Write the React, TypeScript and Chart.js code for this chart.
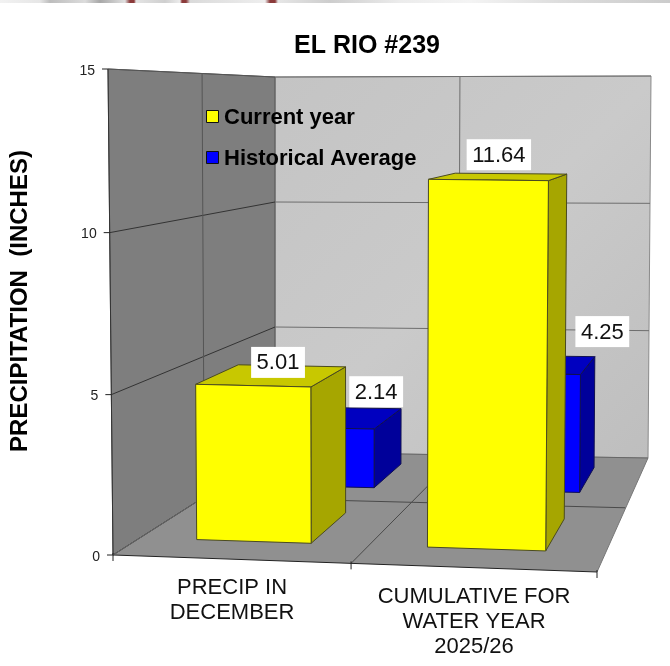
import React, { useEffect, useRef } from "react";
import { Chart, registerables } from "chart.js";

Chart.register(...registerables);

const categories = [["PRECIP IN", "DECEMBER"], ["CUMULATIVE FOR", "WATER YEAR", "2025/26"]];
const currentYear = [5.01, 11.64];
const historicalAverage = [2.14, 4.25];
const yTicks = [0, 5, 10, 15];
const titleText = "EL RIO #239";
const yTitleText = "PRECIPITATION  (INCHES)";

type Pt = [number, number];
// Screen corners of the 3D box (front/back, left/right, bottom/top)
const FL0: Pt = [113, 555], FL1: Pt = [108, 69], FR0: Pt = [597, 572], FR1: Pt = [602, 72];
const BL0: Pt = [275, 452], BL1: Pt = [275, 77], BR0: Pt = [648, 458], BR1: Pt = [651, 76];
const DEPTH_W = 1.29, WIDTH_W = 0.968, HEIGHT_W = 0.985;
const seriesDepth: Pt[] = [[0.135, 0.39], [0.63, 0.885]];
const FONT = '"Liberation Sans", Arial, sans-serif';

const lerp = (a: Pt, b: Pt, t: number): Pt => [a[0] + (b[0] - a[0]) * t, a[1] + (b[1] - a[1]) * t];
function project(u: number, v: number, d: number): Pt {
  const us = (u * WIDTH_W) / (1 - u + u * WIDTH_W);
  const vf = (v * HEIGHT_W) / (1 - v + v * HEIGHT_W);
  const front = lerp(lerp(FL0, FL1, vf), lerp(FR0, FR1, vf), us);
  const back = lerp(lerp(BL0, BL1, v), lerp(BR0, BR1, v), us);
  const t = (d * DEPTH_W) / (1 - d + d * DEPTH_W);
  return lerp(front, back, t);
}

function poly(ctx: CanvasRenderingContext2D, pts: Pt[], fill: string | CanvasGradient | null, stroke: string | null, lw = 1) {
  ctx.beginPath();
  pts.forEach((p, i) => (i ? ctx.lineTo(p[0], p[1]) : ctx.moveTo(p[0], p[1])));
  ctx.closePath();
  if (fill) { ctx.fillStyle = fill; ctx.fill(); }
  if (stroke) { ctx.strokeStyle = stroke; ctx.lineWidth = lw; ctx.stroke(); }
}
function seg(ctx: CanvasRenderingContext2D, a: Pt, b: Pt, color: string, lw = 1) {
  ctx.beginPath(); ctx.moveTo(a[0], a[1]); ctx.lineTo(b[0], b[1]);
  ctx.strokeStyle = color; ctx.lineWidth = lw; ctx.stroke();
}

const faces = [
  { front: "#ffff00", top: "#c8c800", side: "#a6a600", edge: "#4a4a20" },
  { front: "#0000ff", top: "#0000c0", side: "#00009a", edge: "#101050" },
];
const labelNudge: Pt[][] = [[[5, -13], [-1, -22]], [[37, -26], [65, -33]]];
const labelBoxHeight = 31;

const scene3d = {
  id: "scene3d",
  beforeDatasetsDraw(chart: any) {
    const ctx: CanvasRenderingContext2D = chart.ctx;
    const y = chart.scales.y, area = chart.chartArea;
    const frac = (val: number) => (area.bottom - y.getPixelForValue(val)) / area.height;
    ctx.save();
    // walls and floor
    const g = ctx.createLinearGradient(275, 77, 651, 458);
    g.addColorStop(0, "#c4c4c4"); g.addColorStop(0.5, "#cacaca"); g.addColorStop(1, "#bebebe");
    poly(ctx, [BL0, BL1, BR1, BR0], g, "#8a8a8a");
    poly(ctx, [FL0, FL1, BL1, BL0], "#7e7e7e", "#555555");
    poly(ctx, [FL0, BL0, BR0, FR0], "#909090", null);
    // gridlines
    for (const t of yTicks) {
      const v = frac(t);
      if (t > 0) seg(ctx, project(0, v, 1), project(1, v, 1), "#6e6e6e");
      seg(ctx, project(0, v, 0), project(0, v, 1), t === 15 ? "#555555" : "#333333");
    }
    seg(ctx, project(0.5, 0, 1), project(0.5, 1, 1), "#6e6e6e");
    seg(ctx, project(0, 0, 0.5), project(0, 1, 0.5), "#555555");
    seg(ctx, project(0, 0, 0.5), project(1, 0, 0.5), "#4a4a4a");
    seg(ctx, project(0.5, 0, 0), project(0.5, 0, 1), "#4a4a4a");
    seg(ctx, FL0, FL1, "#333333");
    seg(ctx, FL0, FR0, "#222222");
    seg(ctx, FR0, BR0, "#777777");
    seg(ctx, BL0, BR0, "#666666");
    seg(ctx, FL0, BL0, "#666666");
    // ticks
    for (const t of yTicks) {
      const p = project(0, frac(t), 0);
      seg(ctx, [p[0] - 6, p[1]], p, "#222222");
      ctx.fillStyle = "#222222";
      ctx.font = `14px ${FONT}`;
      ctx.textAlign = "right"; ctx.textBaseline = "middle";
      ctx.fillText(String(t), p[0] - 13, p[1] + 2);
    }
    for (const u of [0, 0.5, 1]) {
      const p = project(u, 0, 0);
      seg(ctx, [p[0], p[1] - 2], [p[0], p[1] + 6], "#222222");
    }
    ctx.restore();
  },
  afterDatasetsDraw(chart: any) {
    const ctx: CanvasRenderingContext2D = chart.ctx;
    const area = chart.chartArea;
    const toU = (px: number) => (px - area.left) / area.width;
    const toV = (px: number) => (area.bottom - px) / area.height;
    ctx.save();
    ctx.lineJoin = "round";
    const drawBar = (ds: number, i: number) => {
      const el = chart.getDatasetMeta(ds).data[i];
      const { x, y, base, width } = el.getProps(["x", "y", "base", "width"], true);
      const u0 = toU(x - width / 2), u1 = toU(x + width / 2);
      const v0 = toV(base), v1 = toV(y);
      const [d0, d1] = seriesDepth[ds];
      const c = faces[ds];
      poly(ctx, [project(u1, v0, d0), project(u1, v1, d0), project(u1, v1, d1), project(u1, v0, d1)], c.side, c.edge);
      poly(ctx, [project(u0, v1, d0), project(u1, v1, d0), project(u1, v1, d1), project(u0, v1, d1)], c.top, c.edge);
      poly(ctx, [project(u0, v0, d0), project(u1, v0, d0), project(u1, v1, d0), project(u0, v1, d0)], c.front, c.edge);
    };
    // painter's order: rear series first, then front series
    [1, 0].forEach((ds) => [0, 1].forEach((i) => drawBar(ds, i)));

    // data labels
    ctx.font = `22px ${FONT}`;
    ctx.textAlign = "center"; ctx.textBaseline = "middle";
    [0, 1].forEach((ds) => [0, 1].forEach((i) => {
      const el = chart.getDatasetMeta(ds).data[i];
      const { x, y } = el.getProps(["x", "y"], true);
      const [d0, d1] = seriesDepth[ds];
      const p = project(toU(x), toV(y), (d0 + d1) / 2);
      const n = labelNudge[ds][i];
      const cx = p[0] + n[0], cy = p[1] + n[1];
      const text = chart.data.datasets[ds].data[i].toFixed(2);
      const w = ctx.measureText(text).width + 11;
      ctx.fillStyle = "#ffffff";
      ctx.fillRect(cx - w / 2, cy - labelBoxHeight / 2, w, labelBoxHeight);
      ctx.fillStyle = "#111111";
      ctx.fillText(text, cx, cy + 1);
    }));

    // legend
    const legendY = [116, 157];
    chart.data.datasets.forEach((ds: any, i: number) => {
      const ly = legendY[i];
      ctx.fillStyle = ds.swatch;
      ctx.fillRect(206.5, ly - 5.5, 12, 12);
      ctx.strokeStyle = "#111111"; ctx.lineWidth = 1;
      ctx.strokeRect(206.5, ly - 5.5, 12, 12);
      ctx.fillStyle = "#000000";
      ctx.font = `bold 22px ${FONT}`;
      ctx.textAlign = "left"; ctx.textBaseline = "middle";
      ctx.fillText(ds.label, 224, ly + 2);
    });

    // category labels
    ctx.fillStyle = "#111111";
    ctx.font = `22px ${FONT}`;
    ctx.textAlign = "center"; ctx.textBaseline = "middle";
    chart.data.labels.forEach((lines: string[], i: number) => {
      const p = project((i + 0.5) / 2, 0, 0);
      lines.forEach((line, k) => ctx.fillText(line, p[0] + 1, p[1] + 29 + k * 25));
    });

    // titles
    ctx.fillStyle = "#000000";
    ctx.font = `bold 25px ${FONT}`;
    ctx.textAlign = "center"; ctx.textBaseline = "middle";
    ctx.fillText(titleText, 367, 46);
    ctx.save();
    ctx.font = `bold 24px ${FONT}`;
    ctx.translate(20, 301);
    ctx.rotate(-Math.PI / 2);
    ctx.fillText(yTitleText, 0, 0);
    ctx.restore();
    ctx.restore();
  },
};

const topStrip =
  "linear-gradient(90deg, #f2f2f2 0, #e6e6e6 40px, #bdbdbd 50px, #dcdcdc 85px, #a8a8a8 100px, #e0e0e0 125px, " +
  "#8b3a3a 130px, #8b3a3a 134px, #e4e4e4 136px, #cfcfcf 165px, #ececec 180px, #8b3a3a 182px, #8b3a3a 186px, " +
  "#dadada 190px, #eeeeee 265px, #8b3a3a 270px, #8b3a3a 275px, #e6e6e6 278px, #cdcdcd 330px, #ececec 400px, " +
  "#f4f4f4 470px, #dddddd 560px, #cccccc 670px)";

export default function App() {
  const ref = useRef<HTMLCanvasElement>(null);
  useEffect(() => {
    const chart = new Chart(ref.current!, {
      type: "bar",
      data: {
        labels: categories as any,
        datasets: [
          { label: "Current year", data: currentYear, backgroundColor: "rgba(0,0,0,0)", swatch: "#ffff00" } as any,
          { label: "Historical Average", data: historicalAverage, backgroundColor: "rgba(0,0,0,0)", swatch: "#0000ff" } as any,
        ],
      },
      options: {
        responsive: false,
        animation: false,
        layout: { padding: { left: 113, right: 73, top: 69, bottom: 111 } },
        plugins: { legend: { display: false }, title: { display: false }, tooltip: { enabled: false } },
        datasets: { bar: { grouped: false, barPercentage: 0.5, categoryPercentage: 1 } } as any,
        scales: {
          x: { display: false, grid: { display: false } },
          y: { display: false, min: 0, max: 15, grid: { display: false } },
        },
      },
      plugins: [scene3d],
    });
    return () => chart.destroy();
  }, []);
  return (
    <div style={{ position: "fixed", left: 0, top: 0, width: 670, height: 666, background: "#ffffff" }}>
      <canvas ref={ref} width={670} height={666} style={{ display: "block" }} />
      <div style={{ position: "absolute", left: 0, top: 0, width: 670, height: 3, background: topStrip }} />
    </div>
  );
}
